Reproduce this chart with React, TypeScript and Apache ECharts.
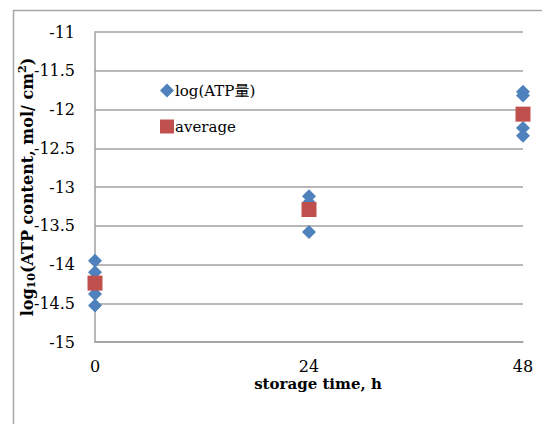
import React, { useEffect, useRef } from "react";
import * as echarts from "echarts";

const hours = [0, 24, 48];
const logATP0 = [-13.95, -14.1, -14.38, -14.53];
const logATP24 = [-13.12, -13.2, -13.58];
const logATP48 = [-11.77, -11.82, -12.24, -12.34];
const averages = [-14.24, -13.29, -12.06];
const seriesNames = ["log(ATP量)", "average"];

const FONT = "'DejaVu Serif', 'Liberation Serif', 'Noto Sans CJK JP', serif";

export default function App() {
  const ref = useRef<HTMLDivElement>(null);
  useEffect(() => {
    if (!ref.current) return;
    const chart = echarts.init(ref.current, null, { renderer: "svg" });
    const points: number[][] = [];
    logATP0.forEach((v) => points.push([hours[0], v]));
    logATP24.forEach((v) => points.push([hours[1], v]));
    logATP48.forEach((v) => points.push([hours[2], v]));
    const avgPts = averages.map((v, i) => [hours[i], v]);
    chart.setOption({
      animation: false,
      backgroundColor: "#ffffff",
      textStyle: { fontFamily: FONT },
      graphic: [
        {
          type: "rect",
          shape: { x: 13.5, y: 10.5, width: 560, height: 440 },
          style: { fill: "none", stroke: "#a6a6a6", lineWidth: 1.5 },
          silent: true,
        },
      ],
      grid: { left: 95, right: 19, top: 32, bottom: 82, outerBoundsMode: "none", containLabel: false },
      legend: {
        orient: "vertical",
        left: 155,
        top: 78,
        itemGap: 21,
        itemWidth: 14,
        itemHeight: 14,
        textStyle: { fontFamily: FONT, fontSize: 15, color: "#000", padding: [0, 0, 0, -4] },
        data: [
          { name: seriesNames[0], icon: "diamond" },
          { name: seriesNames[1], icon: "rect" },
        ],
      },
      xAxis: {
        type: "value",
        min: 0,
        max: 48,
        interval: 24,
        splitLine: { show: false },
        axisLine: { show: true, lineStyle: { color: "#a0a0a0", width: 1.5 } },
        axisTick: { show: false },
        axisLabel: { color: "#000", fontSize: 16, fontFamily: FONT, margin: 16 },
        name: "storage time, h",
        nameLocation: "middle",
        nameGap: 34,
        nameMoveOverlap: false,
        nameTextStyle: { color: "#000", fontSize: 15, fontWeight: "bold", fontFamily: FONT, padding: [0, 0, 0, 18] },
      },
      yAxis: {
        type: "value",
        min: -15,
        max: -11,
        interval: 0.5,
        axisLine: { show: true, onZero: false, lineStyle: { color: "#a0a0a0", width: 1.5 } },
        axisTick: { show: false },
        splitLine: { show: true, lineStyle: { color: "#a0a0a0", width: 1.5 } },
        axisLabel: { color: "#000", fontSize: 16, fontFamily: FONT, margin: 20 },
        name: "{a|log}{sub|10}{a|(ATP content, mol/ cm}{sup|2}{a|)}",
        nameLocation: "middle",
        nameGap: 58,
        nameMoveOverlap: false,
        nameTextStyle: {
          color: "#000",
          fontFamily: FONT,
          rich: {
            a: { fontSize: 16, fontWeight: "bold", fontFamily: FONT, color: "#000", lineHeight: 20 },
            sub: { fontSize: 11, fontWeight: "bold", fontFamily: FONT, color: "#000", verticalAlign: "bottom", lineHeight: 20, padding: [6, 0, 0, 0] },
            sup: { fontSize: 11, fontWeight: "bold", fontFamily: FONT, color: "#000", verticalAlign: "top", lineHeight: 20, padding: [0, 0, 8, 0] },
          },
        },
      },
      series: [
        {
          name: seriesNames[0],
          type: "scatter",
          symbol: "diamond",
          symbolSize: 14,
          itemStyle: { color: "#4f81bd", opacity: 1 },
          data: points,
          z: 2,
        },
        {
          name: seriesNames[1],
          type: "scatter",
          symbol: "rect",
          symbolSize: 15,
          itemStyle: { color: "#c0504d", opacity: 1 },
          data: avgPts,
          z: 3,
        },
      ],
    });
    return () => chart.dispose();
  }, []);
  return (
    <div
      ref={ref}
      style={{ position: "fixed", left: 0, top: 0, width: 542, height: 424 }}
    />
  );
}
